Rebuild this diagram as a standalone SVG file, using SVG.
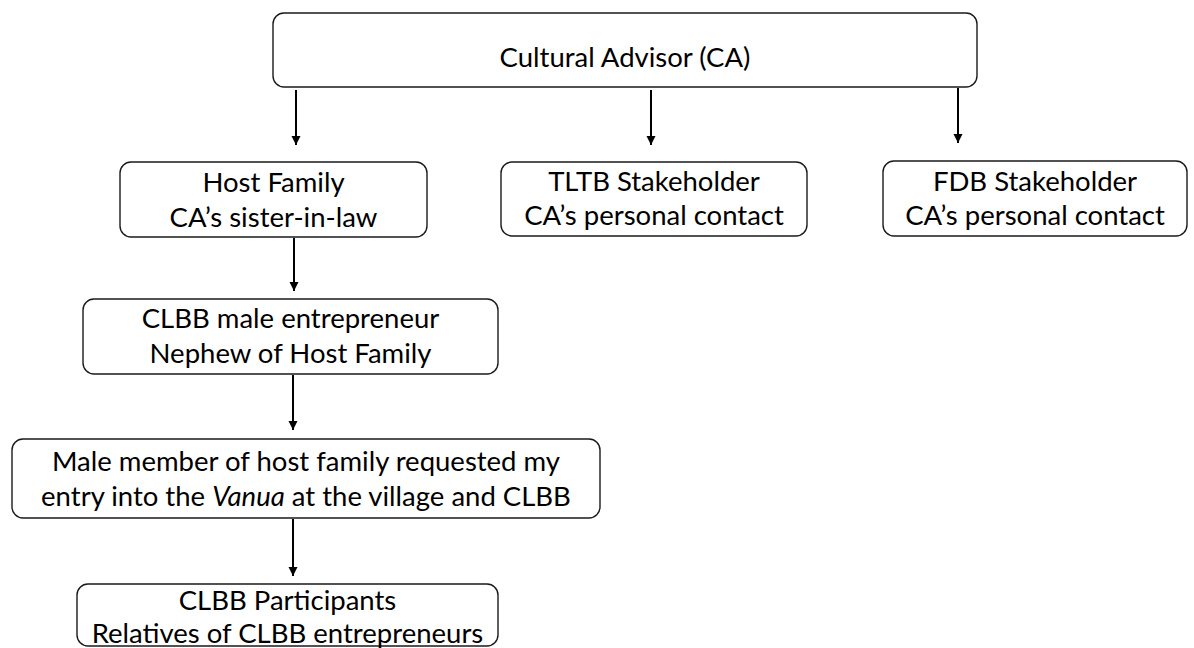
<svg xmlns="http://www.w3.org/2000/svg" width="1194" height="648" viewBox="0 0 1194 648">
<defs>
<style>
.box{fill:#fff;stroke:#1a1a1a;stroke-width:1.4}
.t{font-family:Lato,"Open Sans","Liberation Sans",sans-serif;font-size:27.5px;fill:#000;text-anchor:middle}
.c{stroke:#000;stroke-width:2;fill:none}
</style>
<marker id="ah" viewBox="0 0 10 10" refX="10" refY="5" markerWidth="4.5" markerHeight="5" markerUnits="strokeWidth" orient="auto">
<path d="M0,0 L10,5 L0,10 z" fill="#000"/>
</marker>
</defs>
<rect width="1194" height="648" fill="#fff"/>
<g id="connectors">
<line class="c" x1="296" y1="90" x2="296" y2="145" marker-end="url(#ah)"/>
<line class="c" x1="651" y1="90" x2="651" y2="145" marker-end="url(#ah)"/>
<line class="c" x1="958" y1="88" x2="958" y2="143" marker-end="url(#ah)"/>
<line class="c" x1="294" y1="238" x2="294" y2="291" marker-end="url(#ah)"/>
<line class="c" x1="293" y1="375" x2="293" y2="430" marker-end="url(#ah)"/>
<line class="c" x1="293" y1="519" x2="293" y2="576" marker-end="url(#ah)"/>
</g>
<g id="ca">
<rect class="box" x="273" y="13" width="704" height="74" rx="11"/>
<text class="t" x="625" y="67">Cultural Advisor (CA)</text>
</g>
<g id="host">
<rect class="box" x="120" y="162" width="307" height="75" rx="11"/>
<text class="t" x="273.5" y="192">Host Family</text>
<text class="t" x="273.5" y="227">CA’s sister-in-law</text>
</g>
<g id="tltb">
<rect class="box" x="501" y="162" width="306" height="74" rx="11"/>
<text class="t" x="654" y="191">TLTB Stakeholder</text>
<text class="t" x="654" y="225">CA’s personal contact</text>
</g>
<g id="fdb">
<rect class="box" x="883" y="161" width="304" height="75" rx="11"/>
<text class="t" x="1035" y="191">FDB Stakeholder</text>
<text class="t" x="1035" y="225">CA’s personal contact</text>
</g>
<g id="clbb-male">
<rect class="box" x="83" y="299" width="415" height="75" rx="11"/>
<text class="t" x="290.5" y="328">CLBB male entrepreneur</text>
<text class="t" x="290.5" y="363">Nephew of Host Family</text>
</g>
<g id="male-member">
<rect class="box" x="12" y="439" width="588" height="79" rx="11"/>
<text class="t" x="306" y="471">Male member of host family requested my</text>
<text class="t" x="306" y="506">entry into the <tspan font-style="italic">Vanua</tspan> at the village and CLBB</text>
</g>
<g id="participants">
<rect class="box" x="77" y="584" width="421" height="62" rx="11"/>
<text class="t" x="287.5" y="610">CLBB Participants</text>
<text class="t" x="287.5" y="643">Relatives of CLBB entrepreneurs</text>
</g>
</svg>
